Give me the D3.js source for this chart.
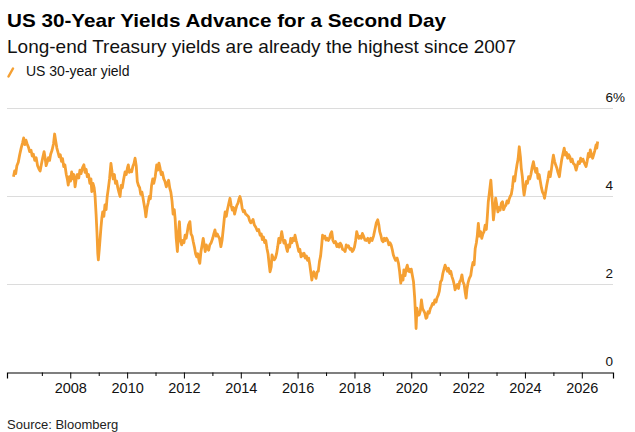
<!DOCTYPE html>
<html>
<head>
<meta charset="utf-8">
<script src="https://cdn.jsdelivr.net/npm/d3@7"></script>
<style>
  html, body { margin: 0; padding: 0; background: #fff; }
  svg { display: block; font-family: "Liberation Sans", Arial, sans-serif; }
</style>
</head>
<body>
<svg width="635" height="432"></svg>
<script>
// decimal years
const dates = [
  2006.00, 2006.04, 2006.08, 2006.12, 2006.17, 2006.22, 2006.27, 2006.32, 2006.36, 2006.40,
  2006.44, 2006.48, 2006.53, 2006.57, 2006.62, 2006.66, 2006.70, 2006.75, 2006.80, 2006.85,
  2006.90, 2006.94, 2006.98, 2007.03, 2007.08, 2007.11, 2007.15, 2007.19, 2007.23, 2007.27,
  2007.31, 2007.36, 2007.41, 2007.45, 2007.49, 2007.53, 2007.57, 2007.61, 2007.65, 2007.69,
  2007.73, 2007.77, 2007.81, 2007.86, 2007.90, 2007.93, 2007.97, 2008.01, 2008.05, 2008.09,
  2008.13, 2008.17, 2008.21, 2008.25, 2008.30, 2008.34, 2008.38, 2008.43, 2008.48, 2008.52,
  2008.56, 2008.60, 2008.64, 2008.69, 2008.73, 2008.76, 2008.80, 2008.84, 2008.87, 2008.91,
  2008.94, 2008.97, 2008.99, 2009.02, 2009.05, 2009.08, 2009.11, 2009.14, 2009.18, 2009.22,
  2009.26, 2009.30, 2009.34, 2009.38, 2009.43, 2009.47, 2009.51, 2009.55, 2009.59, 2009.63,
  2009.67, 2009.71, 2009.75, 2009.79, 2009.83, 2009.88, 2009.93, 2009.97, 2010.01, 2010.04,
  2010.08, 2010.12, 2010.16, 2010.20, 2010.24, 2010.28, 2010.32, 2010.36, 2010.40, 2010.44,
  2010.48, 2010.52, 2010.55, 2010.59, 2010.63, 2010.66, 2010.70, 2010.74, 2010.78, 2010.82,
  2010.86, 2010.90, 2010.94, 2010.99, 2011.04, 2011.08, 2011.12, 2011.16, 2011.20, 2011.24,
  2011.29, 2011.33, 2011.38, 2011.42, 2011.46, 2011.50, 2011.54, 2011.58, 2011.62, 2011.66,
  2011.69, 2011.73, 2011.77, 2011.81, 2011.84, 2011.88, 2011.92, 2011.96, 2012.00, 2012.04,
  2012.08, 2012.12, 2012.16, 2012.21, 2012.25, 2012.29, 2012.33, 2012.37, 2012.41, 2012.45,
  2012.49, 2012.53, 2012.56, 2012.60, 2012.64, 2012.68, 2012.71, 2012.75, 2012.79, 2012.83,
  2012.87, 2012.91, 2012.96, 2013.01, 2013.05, 2013.09, 2013.13, 2013.17, 2013.21, 2013.25,
  2013.30, 2013.34, 2013.38, 2013.42, 2013.45, 2013.49, 2013.53, 2013.58, 2013.62, 2013.66,
  2013.70, 2013.74, 2013.78, 2013.82, 2013.86, 2013.90, 2013.94, 2013.97, 2014.01, 2014.05,
  2014.09, 2014.13, 2014.17, 2014.21, 2014.27, 2014.31, 2014.35, 2014.39, 2014.43, 2014.48,
  2014.53, 2014.58, 2014.63, 2014.68, 2014.72, 2014.76, 2014.80, 2014.84, 2014.88, 2014.92,
  2014.96, 2015.00, 2015.03, 2015.07, 2015.10, 2015.14, 2015.18, 2015.22, 2015.26, 2015.30,
  2015.34, 2015.38, 2015.44, 2015.48, 2015.52, 2015.56, 2015.60, 2015.64, 2015.68, 2015.72,
  2015.76, 2015.80, 2015.84, 2015.88, 2015.91, 2015.95, 2015.99, 2016.04, 2016.08, 2016.12,
  2016.15, 2016.19, 2016.23, 2016.27, 2016.31, 2016.35, 2016.39, 2016.43, 2016.47, 2016.50,
  2016.53, 2016.57, 2016.61, 2016.65, 2016.69, 2016.73, 2016.77, 2016.81, 2016.85, 2016.88,
  2016.92, 2016.96, 2017.00, 2017.04, 2017.08, 2017.12, 2017.16, 2017.20, 2017.24, 2017.28,
  2017.33, 2017.38, 2017.42, 2017.46, 2017.50, 2017.54, 2017.58, 2017.63, 2017.67, 2017.71,
  2017.75, 2017.79, 2017.84, 2017.88, 2017.92, 2017.96, 2018.00, 2018.04, 2018.08, 2018.12,
  2018.16, 2018.20, 2018.24, 2018.28, 2018.32, 2018.37, 2018.42, 2018.47, 2018.52, 2018.57,
  2018.62, 2018.67, 2018.72, 2018.77, 2018.82, 2018.86, 2018.89, 2018.93, 2018.97, 2019.01,
  2019.05, 2019.09, 2019.13, 2019.17, 2019.21, 2019.25, 2019.29, 2019.33, 2019.37, 2019.41,
  2019.45, 2019.50, 2019.55, 2019.59, 2019.63, 2019.67, 2019.71, 2019.74, 2019.78, 2019.82,
  2019.86, 2019.90, 2019.93, 2019.96, 2020.00, 2020.04, 2020.08, 2020.12, 2020.15, 2020.17,
  2020.20, 2020.24, 2020.28, 2020.32, 2020.36, 2020.40, 2020.44, 2020.48, 2020.52, 2020.55,
  2020.59, 2020.63, 2020.67, 2020.71, 2020.75, 2020.79, 2020.83, 2020.87, 2020.91, 2020.95,
  2020.99, 2021.03, 2021.07, 2021.11, 2021.15, 2021.19, 2021.23, 2021.27, 2021.31, 2021.35,
  2021.39, 2021.43, 2021.47, 2021.51, 2021.54, 2021.58, 2021.62, 2021.66, 2021.70, 2021.74,
  2021.78, 2021.82, 2021.86, 2021.90, 2021.93, 2021.96, 2022.00, 2022.04, 2022.09, 2022.13,
  2022.17, 2022.21, 2022.25, 2022.29, 2022.32, 2022.36, 2022.40, 2022.44, 2022.48, 2022.52,
  2022.56, 2022.60, 2022.64, 2022.67, 2022.71, 2022.75, 2022.80, 2022.83, 2022.86, 2022.89,
  2022.93, 2022.97, 2023.01, 2023.05, 2023.09, 2023.13, 2023.17, 2023.21, 2023.25, 2023.29,
  2023.33, 2023.37, 2023.41, 2023.45, 2023.48, 2023.52, 2023.56, 2023.60, 2023.64, 2023.68,
  2023.72, 2023.76, 2023.80, 2023.84, 2023.87, 2023.91, 2023.94, 2023.97, 2024.01, 2024.05,
  2024.09, 2024.13, 2024.17, 2024.21, 2024.25, 2024.30, 2024.34, 2024.38, 2024.42, 2024.46,
  2024.50, 2024.54, 2024.58, 2024.62, 2024.66, 2024.69, 2024.73, 2024.77, 2024.81, 2024.85,
  2024.89, 2024.93, 2024.97, 2025.00, 2025.04, 2025.08, 2025.12, 2025.16, 2025.21, 2025.25,
  2025.29, 2025.33, 2025.38, 2025.42, 2025.46, 2025.50, 2025.54, 2025.58, 2025.62, 2025.66,
  2025.70, 2025.75, 2025.80, 2025.84, 2025.88, 2025.92, 2025.96, 2026.00, 2026.04, 2026.08,
  2026.12, 2026.15, 2026.19, 2026.23, 2026.27, 2026.30, 2026.34, 2026.38, 2026.42, 2026.46,
  2026.50, 2026.53, 2026.56
];

// US 30-year yield, %
const yields = [
  4.45, 4.58, 4.52, 4.70, 4.78, 4.95, 5.10, 5.22, 5.33, 5.18,
  5.28, 5.20, 5.12, 5.02, 5.05, 4.92, 4.96, 4.82, 4.88, 4.70,
  4.62, 4.58, 4.72, 4.88, 5.02, 4.90, 4.70, 4.78, 4.88, 4.82,
  4.96, 5.05, 5.20, 5.42, 5.25, 5.10, 5.00, 4.90, 4.95, 4.80,
  4.86, 4.68, 4.72, 4.50, 4.38, 4.26, 4.45, 4.35, 4.56, 4.40,
  4.50, 4.22, 4.40, 4.50, 4.42, 4.60, 4.52, 4.65, 4.72, 4.55,
  4.62, 4.45, 4.50, 4.30, 4.40, 4.11, 4.30, 4.20, 4.03, 3.60,
  3.20, 2.70, 2.56, 2.80, 3.05, 3.30, 3.51, 3.65, 3.55, 3.81,
  3.70, 4.00, 4.19, 4.40, 4.75, 4.55, 4.40, 4.50, 4.30, 4.35,
  4.20, 4.10, 4.00, 4.25, 4.20, 4.40, 4.56, 4.50, 4.65, 4.72,
  4.55, 4.60, 4.56, 4.68, 4.75, 4.87, 4.70, 4.34, 4.25, 4.20,
  4.05, 4.10, 4.00, 3.85, 3.70, 3.54, 3.75, 3.85, 4.00, 3.95,
  4.25, 4.40, 4.30, 4.45, 4.72, 4.60, 4.76, 4.65, 4.50, 4.55,
  4.40, 4.35, 4.22, 4.30, 4.37, 4.19, 4.10, 3.90, 3.60, 3.70,
  3.50, 3.05, 2.75, 3.20, 3.43, 3.00, 2.90, 3.00, 2.95, 3.12,
  3.05, 3.20, 3.35, 3.43, 3.15, 3.10, 2.97, 2.85, 2.70, 2.63,
  2.70, 2.55, 2.48, 2.75, 2.90, 3.05, 2.92, 2.75, 2.90, 2.82,
  2.78, 2.90, 2.95, 3.05, 3.15, 3.24, 3.10, 3.15, 3.09, 3.05,
  2.86, 3.00, 3.25, 3.50, 3.65, 3.55, 3.70, 3.85, 3.96, 3.80,
  3.69, 3.75, 3.60, 3.70, 3.80, 3.85, 3.95, 4.00, 3.90, 3.73,
  3.65, 3.68, 3.60, 3.58, 3.54, 3.45, 3.40, 3.43, 3.48, 3.35,
  3.30, 3.22, 3.25, 3.12, 3.15, 3.02, 3.08, 2.95, 3.00, 2.82,
  2.70, 2.45, 2.29, 2.40, 2.67, 2.60, 2.56, 2.60, 2.70, 2.85,
  3.05, 2.95, 3.20, 3.05, 2.94, 3.00, 2.85, 2.75, 2.90, 2.85,
  3.05, 2.95, 3.05, 3.00, 3.12, 3.00, 2.90, 2.75, 2.80, 2.63,
  2.70, 2.65, 2.71, 2.60, 2.65, 2.55, 2.60, 2.45, 2.25, 2.10,
  2.20, 2.29, 2.20, 2.14, 2.29, 2.30, 2.52, 2.65, 2.90, 3.12,
  3.05, 3.10, 3.01, 3.05, 3.00, 3.05, 3.15, 3.20, 3.00, 2.95,
  2.98, 2.86, 2.92, 2.85, 2.94, 2.90, 2.80, 2.78, 2.75, 2.90,
  2.85, 2.88, 2.80, 2.82, 2.75, 2.78, 2.85, 3.00, 3.20, 3.10,
  3.05, 3.10, 3.05, 3.16, 3.10, 3.01, 3.00, 3.05, 2.95, 3.05,
  3.00, 3.10, 3.25, 3.40, 3.47, 3.35, 3.20, 3.12, 3.00, 2.97,
  3.05, 3.00, 3.05, 3.00, 2.90, 2.95, 2.90, 2.80, 2.67, 2.60,
  2.55, 2.60, 2.48, 2.30, 2.03, 2.20, 2.10, 2.33, 2.20, 2.35,
  2.44, 2.30, 2.35, 2.29, 2.35, 2.20, 2.06, 1.70, 1.30, 1.00,
  1.46, 1.30, 1.31, 1.40, 1.65, 1.45, 1.40, 1.35, 1.23, 1.25,
  1.38, 1.35, 1.45, 1.50, 1.57, 1.55, 1.65, 1.60, 1.70, 1.76,
  1.85, 2.06, 2.10, 2.25, 2.35, 2.44, 2.37, 2.30, 2.37, 2.25,
  2.30, 2.18, 2.10, 2.00, 1.88, 1.95, 2.00, 1.91, 2.06, 2.10,
  2.22, 2.06, 2.00, 1.80, 1.69, 1.90, 2.05, 2.14, 2.20, 2.37,
  2.50, 2.45, 2.82, 2.95, 3.10, 3.39, 3.10, 3.20, 3.05, 3.15,
  3.20, 3.35, 3.25, 3.50, 3.88, 4.10, 4.37, 4.10, 3.80, 3.47,
  3.70, 3.96, 3.80, 3.65, 3.75, 3.69, 3.85, 3.88, 3.70, 3.77,
  3.80, 3.90, 3.85, 3.95, 4.00, 4.05, 4.20, 4.45, 4.35, 4.55,
  4.72, 4.85, 5.13, 4.90, 4.64, 4.45, 4.20, 4.03, 4.20, 4.34,
  4.30, 4.45, 4.40, 4.50, 4.65, 4.79, 4.64, 4.55, 4.64, 4.41,
  4.50, 4.35, 4.20, 4.10, 4.05, 3.96, 4.10, 4.26, 4.40, 4.56,
  4.45, 4.60, 4.80, 4.94, 4.80, 4.72, 4.65, 4.55, 4.45, 4.65,
  4.83, 4.95, 5.10, 4.94, 5.00, 4.87, 4.95, 4.90, 4.79, 4.85,
  4.75, 4.72, 4.60, 4.70, 4.79, 4.75, 4.87, 4.80, 4.85, 4.78,
  4.72, 4.68, 4.80, 4.98, 4.90, 5.06, 4.95, 4.87, 4.95, 5.05,
  5.17, 5.10, 5.25
];

const yTicks = [0, 2, 4, 6];
const firstTickYear = 2007, lastTickYear = 2026;

const orange = "#f5a033";
const toDate = t => {
  const yr = Math.floor(t);
  return new Date(yr, 0, 1 + Math.round((t - yr) * 365));
};

const data = dates.map((d, i) => ({ date: toDate(d), value: yields[i] }));

const svg = d3.select("svg");
const left = 7, right = 613;

const x = d3.scaleTime()
  .domain([toDate(2005.772), toDate(2027.1)])
  .range([left, right]);
const y = d3.scaleLinear().domain([0, 6]).range([372.5, 108.5]);

// titles
svg.append("text")
  .attr("x", 7).attr("y", 27)
  .attr("font-size", 19).attr("font-weight", "bold").attr("fill", "#000")
  .attr("textLength", 439).attr("lengthAdjust", "spacingAndGlyphs")
  .text("US 30-Year Yields Advance for a Second Day");

svg.append("text")
  .attr("x", 7).attr("y", 53)
  .attr("font-size", 18.5).attr("fill", "#111")
  .attr("textLength", 509).attr("lengthAdjust", "spacingAndGlyphs")
  .text("Long-end Treasury yields are already the highest since 2007");

// legend
svg.append("line")
  .attr("x1", 8.5).attr("y1", 76.5).attr("x2", 13).attr("y2", 68.5)
  .attr("stroke", orange).attr("stroke-width", 2.5).attr("stroke-linecap", "round");
svg.append("text")
  .attr("x", 26).attr("y", 76)
  .attr("font-size", 14).attr("fill", "#111")
  .text("US 30-year yield");

// gridlines
svg.append("g")
  .selectAll("line")
  .data(yTicks.filter(d => d > 0))
  .join("line")
  .attr("x1", left).attr("x2", right)
  .attr("y1", d => y(d)).attr("y2", d => y(d))
  .attr("stroke", "#dcdcdc").attr("stroke-width", 1);

// y labels
svg.append("g")
  .selectAll("text")
  .data(yTicks)
  .join("text")
  .attr("x", right).attr("y", d => y(d) - 7)
  .attr("text-anchor", "end")
  .attr("font-size", 13.5).attr("fill", "#111")
  .text(d => d);
svg.append("text")
  .attr("x", right).attr("y", y(6) - 7)
  .attr("font-size", 13.5).attr("fill", "#111")
  .text("%");

// x axis, one tick per year, labels on even years
const xAxis = svg.append("g")
  .attr("transform", `translate(0,${y(0)})`)
  .call(d3.axisBottom(x)
    .tickValues(d3.range(firstTickYear, lastTickYear + 1).map(yr => new Date(yr, 0, 1)))
    .tickSizeOuter(0)
    .tickSize(6)
    .tickFormat(d => d.getFullYear() % 2 === 0 ? d.getFullYear() : ""));

xAxis.select(".domain").attr("stroke", "#000").attr("stroke-width", 1.2);
xAxis.selectAll(".tick line")
  .attr("stroke", "#000")
  .attr("y2", d => d.getFullYear() % 2 === 0 ? 6 : 3.5);
xAxis.selectAll(".tick text")
  .attr("y", 20.5).attr("dy", 0)
  .attr("font-size", 14.5).attr("fill", "#111")
  .attr("font-family", "Liberation Sans, Arial, sans-serif");

// the series
const line = d3.line()
  .x(d => x(d.date))
  .y(d => y(d.value));

svg.append("path")
  .datum(data)
  .attr("fill", "none")
  .attr("stroke", orange)
  .attr("stroke-width", 2.8)
  .attr("stroke-linejoin", "round")
  .attr("d", line);

// source
svg.append("text")
  .attr("x", 7).attr("y", 429)
  .attr("font-size", 13).attr("fill", "#222")
  .text("Source: Bloomberg");
</script>
</body>
</html>
